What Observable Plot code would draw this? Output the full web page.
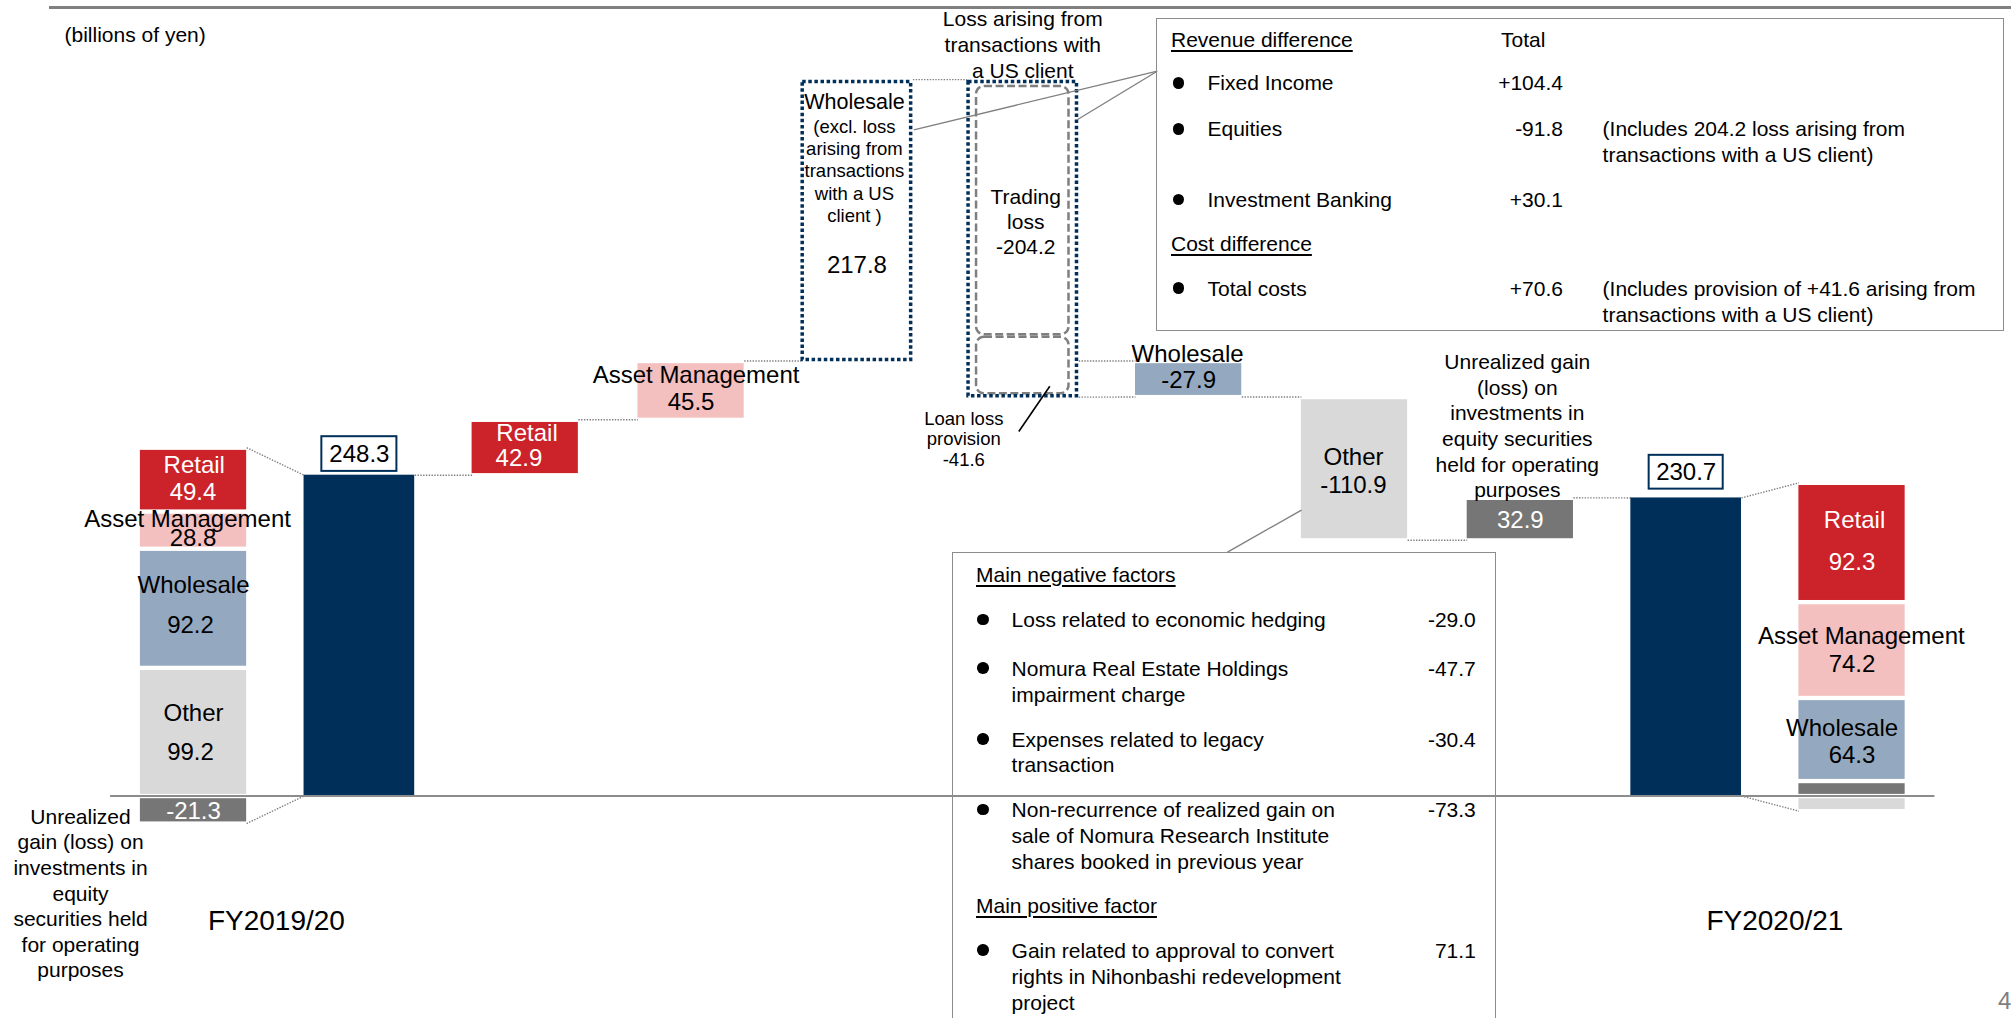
<!DOCTYPE html>
<html>
<head>
<meta charset="utf-8">
<script src="https://cdn.jsdelivr.net/npm/d3@7"></script>
<script src="https://cdn.jsdelivr.net/npm/@observablehq/plot@0.6"></script>
<style>
  html, body { margin: 0; padding: 0; background: #fff; }
  body { width: 2011px; height: 1018px; position: relative; overflow: hidden;
         font-family: "Liberation Sans", Arial, Helvetica, sans-serif; color: #000; }
  #chart { position: absolute; left: 0; top: 0; }
  #overlay { position: absolute; left: 0; top: 0; width: 2011px; height: 1018px; pointer-events: none; }
</style>
</head>
<body>
<div id="chart"></div>
<div id="overlay"></div>
<script>
// ------------------------------------------------------------------ data
const unitLabel = "(billions of yen)";
const periods = ["FY2019/20", "FY2020/21"];
const periodTotals = [248.3, 230.7];
const segments = ["Retail", "Asset Management", "Wholesale", "Other", "Unrealized"];
const segmentValues19 = [49.4, 28.8, 92.2, 99.2, -21.3];
const segmentValues20 = [92.3, 74.2, 64.3, -11.7, 11.6];
const changeNames = ["Retail", "Asset Management", "Wholesale", "Other", "Unrealized"];
const changeValues = [42.9, 45.5, -27.9, -110.9, 32.9];
const wholesaleGross = 217.8;
const usClientNames = ["Trading loss", "Loan loss provision"];
const usClientValues = [-204.2, -41.6];
const columns = ["FY2019/20 breakdown", "FY2019/20", "Retail", "Asset Management",
  "Wholesale (excl. US client loss)", "Loss from US client", "Wholesale", "Other",
  "Unrealized", "FY2020/21", "FY2020/21 breakdown"];

const revenueItems = ["Fixed Income", "Equities", "Investment Banking"];
const revenueDiffs = ["+104.4", "-91.8", "+30.1"];
const revenueNotes = ["", "(Includes 204.2 loss arising from\ntransactions with a US client)", ""];
const costItems = ["Total costs"];
const costDiffs = ["+70.6"];
const costNotes = ["(Includes provision of +41.6 arising from\ntransactions with a US client)"];
const otherNegItems = ["Loss related to economic hedging",
  "Nomura Real Estate Holdings\nimpairment charge",
  "Expenses related to legacy\ntransaction",
  "Non-recurrence of realized gain on\nsale of Nomura Research Institute\nshares booked in previous year"];
const otherNegValues = [-29.0, -47.7, -30.4, -73.3];
const otherPosItems = ["Gain related to approval to convert\nrights in Nihonbashi redevelopment\nproject"];
const otherPosValues = [71.1];

// ------------------------------------------------------------------ layout / style
const W = 2011, H = 1018;
const ML = 110.1, MR = 76.55;
const STEP = (W - ML - MR) / columns.length;
const K = 1.292, Y0 = 795.5;
const yDomain = [-(H - Y0) / K, Y0 / K];
const FONT = "'Liberation Sans', Arial, Helvetica, sans-serif";
const NAVY = "#00305a";
const GRAY = "#7f7f7f";
const segColor = {"Retail": "#cc2229", "Asset Management": "#f4bfbf", "Wholesale": "#94a9bf",
  "Other": "#d9d9d9", "Unrealized": "#767676"};
const BAR_IN = 29.8, NAVY_IN = 27.6, BOX_IN = 28.7;
const edge = px => 0.5 - px / STEP;
const eBar = edge(BAR_IN), eNavy = edge(NAVY_IN), eBox = edge(BOX_IN - 1.75);
const col = n => columns.indexOf(n);
const fmt = v => v.toFixed(1);

// ------------------------------------------------------------------ derived
const stackOrder = ["Unrealized", "Other", "Wholesale", "Asset Management", "Retail"];
function stack(period, values, column) {
  let pos = 0, neg = 0;
  return stackOrder.map(name => {
    const v = values[segments.indexOf(name)];
    const y1 = v >= 0 ? pos : neg, y2 = y1 + v;
    if (v >= 0) pos = y2; else neg = y2;
    return {period, name, value: v, x: column, y1, y2, fill: segColor[name]};
  });
}
const stack19 = stack(periods[0], segmentValues19, col("FY2019/20 breakdown"));
const stack20 = stack(periods[1], segmentValues20, col("FY2020/21 breakdown"));
const top19 = d3.max(stack19, d => Math.max(d.y1, d.y2)), bot19 = d3.min(stack19, d => Math.min(d.y1, d.y2));
const top20 = d3.max(stack20, d => Math.max(d.y1, d.y2)), bot20 = d3.min(stack20, d => Math.min(d.y1, d.y2));

const steps = [];
let level = periodTotals[0];
function step(name) {
  const v = changeValues[changeNames.indexOf(name)];
  steps.push({name, value: v, x: col(name), y1: level, y2: level + v, fill: segColor[name]});
  level += v;
}
step("Retail");
step("Asset Management");
const wStart = level;
const grossBox = {x: col("Wholesale (excl. US client loss)"), y1: wStart, y2: wStart + wholesaleGross};
let lv = grossBox.y2;
const usParts = usClientNames.map((n, i) => {
  const p = {name: n, value: usClientValues[i], x: col("Loss from US client"), y1: lv, y2: lv + usClientValues[i]};
  lv = p.y2; return p;
});
const lossBox = {x: col("Loss from US client"), y1: grossBox.y2, y2: lv};
step("Wholesale");
step("Other");
step("Unrealized");
const S = Object.fromEntries(steps.map(s => [s.name, s]));
const totals = periods.map((p, i) => ({period: p, value: periodTotals[i], x: col(p)}));

const connectors = [
  {x1: stack19[0].x + eBar, y1: top19, x2: totals[0].x - eNavy, y2: totals[0].value},
  {x1: stack19[0].x + eBar, y1: bot19, x2: totals[0].x - eNavy, y2: 0},
  {x1: totals[0].x + eNavy, y1: totals[0].value, x2: S.Retail.x - eBar, y2: S.Retail.y1},
  {x1: S.Retail.x + eBar, y1: S.Retail.y2, x2: S["Asset Management"].x - eBar, y2: S["Asset Management"].y1},
  {x1: S["Asset Management"].x + eBar, y1: S["Asset Management"].y2, x2: grossBox.x - eBox, y2: grossBox.y1},
  {x1: grossBox.x + eBox, y1: grossBox.y2, x2: lossBox.x - eBox, y2: lossBox.y1},
  {x1: lossBox.x + eBox, y1: wStart, x2: S.Wholesale.x - eBar, y2: S.Wholesale.y1},
  {x1: lossBox.x + eBox, y1: lossBox.y2, x2: S.Wholesale.x - eBar, y2: S.Wholesale.y2},
  {x1: S.Wholesale.x + eBar, y1: S.Wholesale.y2, x2: S.Other.x - eBar, y2: S.Other.y1},
  {x1: S.Other.x + eBar, y1: S.Other.y2, x2: S.Unrealized.x - eBar, y2: S.Unrealized.y1},
  {x1: S.Unrealized.x + eBar, y1: S.Unrealized.y2, x2: totals[1].x - eNavy, y2: totals[1].value},
  {x1: totals[1].x + eNavy, y1: totals[1].value, x2: stack20[0].x - eBar, y2: top20},
  {x1: totals[1].x + eNavy, y1: 0, x2: stack20[0].x - eBar, y2: bot20}
];

// callout leader lines (annotation anchors, pixel positions -> data space)
const px2 = (px, py) => [(px - ML) / STEP - 0.5, (Y0 - py) / K];
function leader(a, b) { const [x1, y1] = px2(...a), [x2, y2] = px2(...b); return {x1, y1, x2, y2}; }
const grayLeaders = [
  leader([913.3, 129.3], [1156.7, 70.7]),
  leader([1076.7, 119.3], [1156.7, 70.7]),
  leader([1301, 509.6], [1227, 551.6])
];
const blackLeaders = [leader([1049.3, 385.7], [1018.3, 431])];

// ------------------------------------------------------------------ labels
const labels = [];
function L(x, y, text, o = {}) {
  labels.push({x, y, text, dx: o.dx ?? 0, dy: o.dy ?? 0, size: o.size ?? 24, fill: o.fill ?? "#000", lh: o.lh ?? 1});
}
const stackLayout = {
  "FY2019/20": {
    "Retail": {fill: "#fff", name: [0.7, -13.8], value: [-0.5, 12.9]},
    "Asset Management": {name: [-6, -10.4], value: [-0.5, 8.6]},
    "Wholesale": {name: [0, -22.6], value: [-3, 17.4]},
    "Other": {name: [0, -18.4], value: [-3, 20.3]},
    "Unrealized": {fill: "#fff", value: [0, 1.4]}
  },
  "FY2020/21": {
    "Retail": {fill: "#fff", name: [2.5, -21.7], value: [0, 20.3]},
    "Asset Management": {name: [9.3, -13.4], value: [0, 14.6]},
    "Wholesale": {name: [-9.9, -10.9], value: [0, 15.6]}
  }
};
for (const data of [stack19, stack20]) {
  for (const s of data) {
    const lay = stackLayout[s.period][s.name];
    if (!lay) continue;
    const cy = (s.y1 + s.y2) / 2;
    if (lay.name) L(s.x, cy, s.name, {dx: lay.name[0], dy: lay.name[1], fill: lay.fill});
    L(s.x, cy, fmt(s.value), {dx: lay.value[0], dy: lay.value[1], fill: lay.fill});
  }
}
const mid = s => (s.y1 + s.y2) / 2;
L(S.Retail.x, mid(S.Retail), S.Retail.name, {dx: 1.8, dy: -13.7, fill: "#fff"});
L(S.Retail.x, mid(S.Retail), fmt(S.Retail.value), {dx: -6.3, dy: 11.3, fill: "#fff"});
const AM = S["Asset Management"];
L(AM.x, mid(AM), AM.name, {dx: 5, dy: -14.6});
L(AM.x, mid(AM), fmt(AM.value), {dx: 0, dy: 12.1});
L(S.Wholesale.x, Math.max(S.Wholesale.y1, S.Wholesale.y2), S.Wholesale.name, {dx: -1, dy: -7});
L(S.Wholesale.x, mid(S.Wholesale), fmt(S.Wholesale.value), {dy: 1.8});
L(S.Other.x, mid(S.Other), S.Other.name, {dx: -1, dy: -11.2});
L(S.Other.x, mid(S.Other), fmt(S.Other.value), {dx: -1, dy: 17.1});
L(S.Unrealized.x, mid(S.Unrealized), fmt(S.Unrealized.value), {dy: 1.7, fill: "#fff"});
L(S.Unrealized.x, S.Unrealized.y2,
  ["Unrealized gain", "(loss) on", "investments in", "equity securities", "held for operating", "purposes"].join("\n"),
  {dx: -3, dy: -72.9, size: 21, lh: 1.22});
L(stack19[0].x, bot19,
  ["Unrealized", "gain (loss) on", "investments in", "equity", "securities held", "for operating", "purposes"].join("\n"),
  {dx: -113, dy: 68.9, size: 21, lh: 1.22});
// wholesale gross box
L(grossBox.x, grossBox.y2, "Wholesale", {dx: -2.5, dy: 23, size: 21.5});
L(grossBox.x, grossBox.y2, ["(excl. loss", "arising from", "transactions", "with a US", "client )"].join("\n"),
  {dx: -2.5, dy: 90.8, size: 18.5, lh: 1.2});
L(grossBox.x, grossBox.y2, fmt(wholesaleGross), {dy: 185.3});
// loss box
L(lossBox.x, lossBox.y1, ["Trading", "loss", fmt(usParts[0].value)].join("\n"), {dx: 3, dy: 141.3, size: 21, lh: 1.19});
L(lossBox.x, lossBox.y1, ["Loss arising from", "transactions with", "a US client"].join("\n"), {dy: -36, size: 21, lh: 1.23});
L(lossBox.x, lossBox.y2, ["Loan loss", "provision", fmt(usParts[1].value)].join("\n"), {dx: -59, dy: 41.6, size: 18.5, lh: 1.11});
// totals & period labels
L(totals[0].x, totals[0].value, fmt(totals[0].value), {dy: -21.2});
L(totals[1].x, totals[1].value, fmt(totals[1].value), {dy: -25.7});
L((stack19[0].x + totals[0].x) / 2, 0, periods[0], {dy: 125.5, size: 28});
L((stack20[0].x + totals[1].x) / 2, 0, periods[1], {dx: 5.8, dy: 125.5, size: 28});

// ------------------------------------------------------------------ plot
const xr = d => d.x - 0.5, xrr = d => d.x + 0.5;
const chart = Plot.plot({
  width: W, height: H,
  marginLeft: ML, marginRight: MR, marginTop: 0, marginBottom: 0,
  x: {domain: [-0.5, columns.length - 0.5], axis: null},
  y: {domain: yDomain, axis: null},
  color: {type: "identity"},
  style: {fontFamily: FONT, background: "transparent", color: "#000"},
  marks: [
    Plot.link(connectors, {x1: "x1", y1: "y1", x2: "x2", y2: "y2", stroke: GRAY, strokeWidth: 1.4, strokeDasharray: "1.4,1.4"}),
    Plot.rect(totals, {x1: xr, x2: xrr, y1: 0, y2: "value", fill: NAVY, insetLeft: NAVY_IN, insetRight: NAVY_IN}),
    Plot.rect([...stack19, ...stack20, ...steps], {x1: xr, x2: xrr, y1: "y1", y2: "y2", fill: "fill",
      insetLeft: BAR_IN, insetRight: BAR_IN, insetTop: 2.7, insetBottom: 1.6}),
    Plot.rect([usParts[0]], {x1: xr, x2: xrr, y1: "y1", y2: "y2", fill: "none", stroke: GRAY, strokeWidth: 2.5,
      strokeDasharray: "8,3.5", rx: 8, insetLeft: 36.7, insetRight: 36.7, insetTop: 7, insetBottom: 8.6}),
    Plot.rect([usParts[1]], {x1: xr, x2: xrr, y1: "y1", y2: "y2", fill: "none", stroke: GRAY, strokeWidth: 2.5,
      strokeDasharray: "8,3.5", rx: 8, insetLeft: 36.7, insetRight: 36.7, insetTop: -6.1, insetBottom: 3.4}),
    Plot.rect([grossBox, lossBox], {x1: xr, x2: xrr, y1: "y1", y2: "y2", fill: "none", stroke: NAVY, strokeWidth: 3.5,
      strokeDasharray: "3.5,2.6", insetLeft: BOX_IN, insetRight: BOX_IN, insetTop: 2.5, insetBottom: 1}),
    Plot.rect([totals[0]], {x1: xr, x2: xrr, y1: "value", y2: "value", fill: "#fff", stroke: NAVY, strokeWidth: 2,
      insetLeft: 45.4, insetRight: 45.4, insetTop: -38.5, insetBottom: 3.8}),
    Plot.rect([totals[1]], {x1: xr, x2: xrr, y1: "value", y2: "value", fill: "#fff", stroke: NAVY, strokeWidth: 2,
      insetLeft: 45.9, insetRight: 45.9, insetTop: -42.6, insetBottom: 8.8}),
    Plot.ruleY([0], {stroke: "#8c8c8c", strokeWidth: 2}),
    Plot.link(grayLeaders, {x1: "x1", y1: "y1", x2: "x2", y2: "y2", stroke: GRAY, strokeWidth: 1.3}),
    Plot.link(blackLeaders, {x1: "x1", y1: "y1", x2: "x2", y2: "y2", stroke: "#000", strokeWidth: 1.6}),
    ...labels.map(t => Plot.text([t], {x: "x", y: "y", text: "text", dx: t.dx, dy: t.dy,
      fontSize: t.size, fill: t.fill, lineHeight: t.lh, lineAnchor: "middle", textAnchor: "middle"}))
  ]
});
document.getElementById("chart").appendChild(chart);

// ------------------------------------------------------------------ callout boxes (HTML)
const ov = document.getElementById("overlay");
function el(css, text) {
  const e = document.createElement("div");
  Object.assign(e.style, {position: "absolute"}, css);
  if (text != null) e.textContent = text;
  ov.appendChild(e); return e;
}
function tx(text, x, cy, o = {}) {
  const lh = o.lh ?? 25.7, size = o.size ?? 21;
  const css = {top: (cy - lh / 2) + "px", fontSize: size + "px", lineHeight: lh + "px",
    whiteSpace: "pre", color: o.color ?? "#000"};
  if (o.align === "right") { css.right = (W - x) + "px"; css.textAlign = "right"; } else css.left = x + "px";
  if (o.underline) { css.textDecoration = "underline"; css.textUnderlineOffset = "2.5px"; css.textDecorationThickness = "1.5px"; }
  return el(css, text);
}
function bullet(cx, cy) {
  el({left: (cx - 5.75) + "px", top: (cy - 5.75) + "px", width: "11.5px", height: "11.5px", borderRadius: "50%", background: "#000"});
}
// header rule, unit, page number
el({left: "49px", top: "5.7px", width: (W - 49) + "px", height: "3.6px", background: "#808080"});
tx(unitLabel, 64.5, 35);
tx("4", 1998, 1000.5, {size: 24, color: "#7f7f7f"});

// revenue / cost box
el({left: "1156px", top: "18px", width: "847.5px", height: "313px", border: "1.5px solid #8c8c8c", boxSizing: "border-box"});
tx("Revenue difference", 1171, 40, {underline: true});
tx("Total", 1501, 40);
const revRows = [83.3, 129.3, 200];
revenueItems.forEach((n, i) => {
  bullet(1178.4, revRows[i] - 0.5);
  tx(n, 1207.5, revRows[i]);
  tx(revenueDiffs[i], 1563, revRows[i], {align: "right"});
  if (revenueNotes[i]) tx(revenueNotes[i], 1602.6, revRows[i]);
});
tx("Cost difference", 1171, 244.3, {underline: true});
const costRows = [288.7];
costItems.forEach((n, i) => {
  bullet(1178.4, costRows[i] - 0.5);
  tx(n, 1207.5, costRows[i]);
  tx(costDiffs[i], 1563, costRows[i], {align: "right"});
  tx(costNotes[i], 1602.6, costRows[i]);
});

// other factors box
el({left: "952px", top: "551.6px", width: "543.5px", height: "520px", borderLeft: "1.5px solid #8c8c8c",
  borderTop: "1.5px solid #8c8c8c", borderRight: "1.5px solid #8c8c8c", boxSizing: "border-box"});
tx("Main negative factors", 976, 574.5, {underline: true});
const negRows = [620, 668.7, 739.6, 810];
otherNegItems.forEach((n, i) => {
  bullet(983, negRows[i] - 0.7);
  tx(n, 1011.6, negRows[i]);
  tx(fmt(otherNegValues[i]), 1475.8, negRows[i], {align: "right"});
});
tx("Main positive factor", 976, 906, {underline: true});
const posRows = [951];
otherPosItems.forEach((n, i) => {
  bullet(983, posRows[i] - 1);
  tx(n, 1011.6, posRows[i]);
  tx(fmt(otherPosValues[i]), 1475.8, posRows[i], {align: "right"});
});
</script>
</body>
</html>
